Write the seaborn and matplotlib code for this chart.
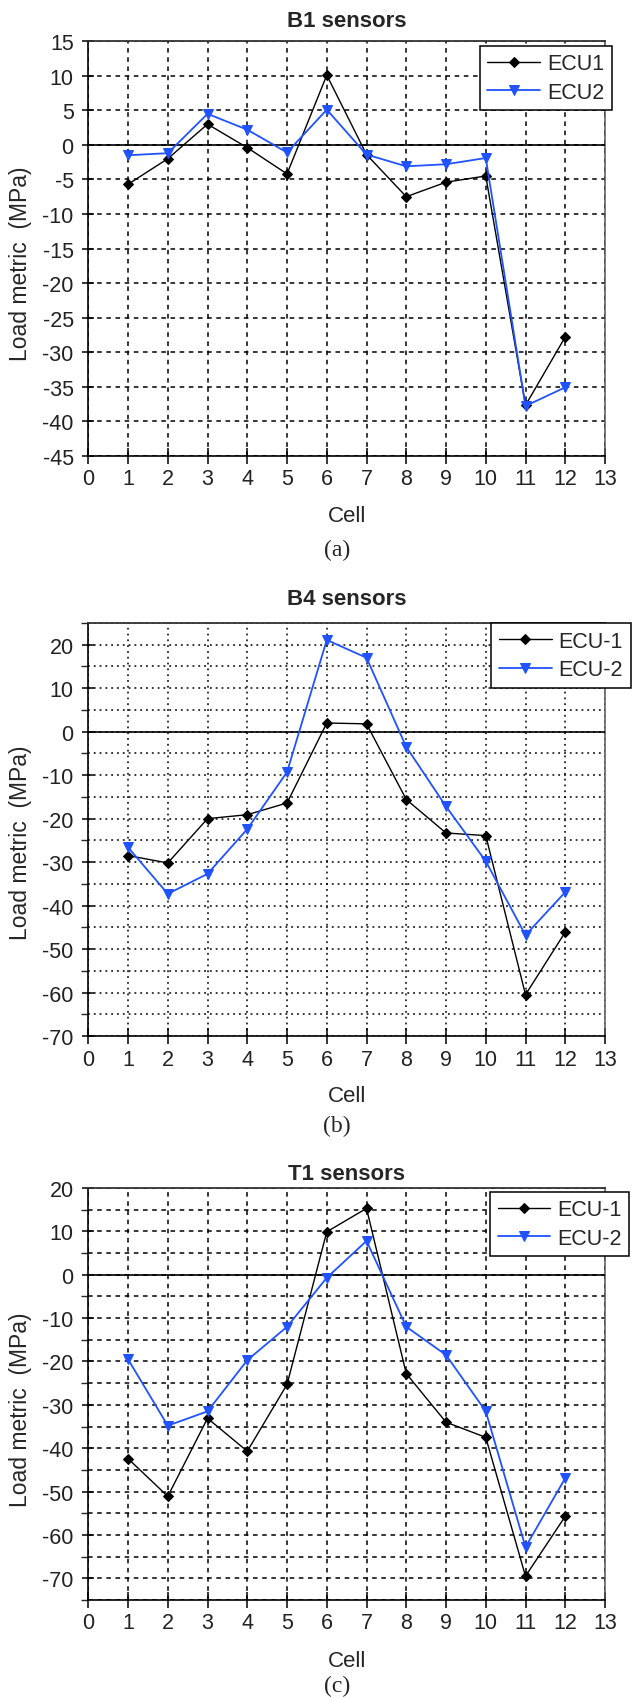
import numpy as np
import pandas as pd
import matplotlib
matplotlib.use("Agg")
import matplotlib.pyplot as plt
from matplotlib.ticker import MultipleLocator
import seaborn as sns

# ---------------- data ----------------
cells = [1, 2, 3, 4, 5, 6, 7, 8, 9, 10, 11, 12]

b1_ecu1 = [-5.7, -2.0, 3.0, -0.4, -4.2, 10.1, -1.4, -7.5, -5.4, -4.5, -37.7, -27.8]
b1_ecu2 = [-1.5, -1.2, 4.5, 2.2, -1.1, 5.1, -1.4, -3.1, -2.8, -1.9, -37.8, -35.1]

b4_ecu1 = [-28.5, -30.2, -20.0, -19.1, -16.4, 2.0, 1.8, -15.6, -23.3, -23.9, -60.5, -46.1]
b4_ecu2 = [-26.6, -37.3, -32.7, -22.4, -9.3, 21.1, 17.0, -3.5, -17.2, -29.8, -46.8, -36.9]

t1_ecu1 = [-42.4, -51.1, -33.1, -40.7, -25.3, 9.9, 15.3, -22.8, -34.0, -37.5, -69.5, -55.7]
t1_ecu2 = [-19.5, -34.8, -31.5, -19.7, -12.0, -0.7, 7.8, -12.0, -18.5, -31.5, -62.8, -46.9]

titles = ["B1 sensors", "B4 sensors", "T1 sensors"]
legend_labels = [["ECU1", "ECU2"], ["ECU-1", "ECU-2"], ["ECU-1", "ECU-2"]]
captions = ["(a)", "(b)", "(c)"]
x_label = "Cell"
y_label = "Load metric  (MPa)"
x_ticks = list(range(0, 14))

# ---------------- style ----------------
sns.set_style("white")
plt.rcParams["font.family"] = ["Liberation Sans", "DejaVu Sans"]
plt.rcParams["axes.unicode_minus"] = False

W, H = 638, 1699
DPI = 100
fig = plt.figure(figsize=(W / DPI, H / DPI), dpi=DPI)

def fx(px):
    return px / W

def fy(py):
    return 1 - py / H

BLUE = "#2052ff"

panels = [
    dict(data=(b1_ecu1, b1_ecu2), top=42.3, bottom=456.7, ylim=(-45, 15), major=5, minor=None,
         grid_ls=(0, (3, 3)), title_y=21.7, cell_y=516.7, cap_y=550, ylab_y=264,
         leg=(479.7, 46.7)),
    dict(data=(b4_ecu1, b4_ecu2), top=624, bottom=1037, ylim=(-70, 25), major=10, minor=5,
         grid_ls=(0, (1.2, 2.6)), title_y=599.3, cell_y=1096.7, cap_y=1126.7, ylab_y=843,
         leg=(491.3, 624)),
    dict(data=(t1_ecu1, t1_ecu2), top=1189, bottom=1601, ylim=(-75, 20), major=10, minor=5,
         grid_ls=(0, (3, 3)), title_y=1175, cell_y=1661.7, cap_y=1686.7, ylab_y=1410,
         leg=(490, 1192.7)),
]

LEFT, RIGHT = 88.3, 605
FS = 15.5

for i, p in enumerate(panels):
    ax = fig.add_axes([fx(LEFT), fy(p["bottom"]), fx(RIGHT - LEFT), (p["bottom"] - p["top"]) / H])
    e1, e2 = p["data"]
    df = pd.DataFrame({"cell": cells * 2,
                       "value": list(e1) + list(e2),
                       "series": [legend_labels[i][0]] * len(cells) + [legend_labels[i][1]] * len(cells)})
    sns.lineplot(data=df[df.series == legend_labels[i][0]], x="cell", y="value", ax=ax,
                 color="black", lw=1.0, marker="D", markersize=5.5, markeredgecolor="black",
                 label=legend_labels[i][0], zorder=5)
    sns.lineplot(data=df[df.series == legend_labels[i][1]], x="cell", y="value", ax=ax,
                 color=BLUE, lw=1.3, marker="v", markersize=7.5, markeredgecolor=BLUE,
                 label=legend_labels[i][1], zorder=6)

    ax.set_xlim(0, 13)
    ax.set_ylim(*p["ylim"])
    ax.set_xticks(x_ticks)
    ax.yaxis.set_major_locator(MultipleLocator(p["major"]))
    if p["minor"]:
        ax.yaxis.set_minor_locator(MultipleLocator(p["minor"]))
    ax.set_xlabel("")
    ax.set_ylabel("")

    ax.grid(True, which="major", axis="both", color="black", lw=1.1, ls=p["grid_ls"])
    if p["minor"]:
        ax.grid(True, which="minor", axis="y", color="black", lw=1.1, ls=p["grid_ls"])
    ax.set_axisbelow(True)
    ax.axhline(0, color="black", lw=1.2, zorder=3)

    for s in ["left", "bottom"]:
        ax.spines[s].set_color("black")
        ax.spines[s].set_linewidth(1.2)
    ax.spines["top"].set_color("#333333")
    ax.spines["top"].set_linewidth(1.3)
    ax.spines["right"].set_color("#555555")
    ax.spines["right"].set_linewidth(1.1)

    ax.tick_params(axis="y", which="major", direction="inout", length=9, width=1.1,
                   labelsize=FS, pad=6, left=True, colors="black")
    ax.tick_params(axis="y", which="minor", direction="out", length=5, width=1.0, left=True)
    ax.tick_params(axis="x", which="major", direction="inout", length=11, width=1.1,
                   labelsize=FS, pad=3.5, bottom=True, colors="black")
    for lbl in ax.get_yticklabels() + ax.get_xticklabels():
        lbl.set_color("#222222")

    leg = ax.legend(loc="upper left", bbox_to_anchor=(fx(p["leg"][0]), fy(p["leg"][1])),
                    bbox_transform=fig.transFigure, frameon=True, fancybox=False,
                    edgecolor="black", framealpha=1, borderaxespad=0, fontsize=FS,
                    handlelength=2.45, handletextpad=0.32, labelspacing=0.35, borderpad=0.35)
    leg.get_frame().set_linewidth(1.1)
    leg.set_zorder(10)

    cx = fx((LEFT + RIGHT) / 2)
    fig.text(cx, fy(p["title_y"]), titles[i], ha="center", va="center", fontsize=16,
             fontweight="bold")
    fig.text(cx, fy(p["cell_y"]), x_label, ha="center", va="center", fontsize=16)
    fig.text(fx(337), fy(p["cap_y"]), captions[i], ha="center", va="center", fontsize=17,
             family=["Liberation Serif", "DejaVu Serif"])
    fig.text(fx(21), fy(p["ylab_y"]), y_label, ha="center", va="center", rotation=90,
             fontsize=16.5)

fig.savefig("out.png", dpi=DPI)
